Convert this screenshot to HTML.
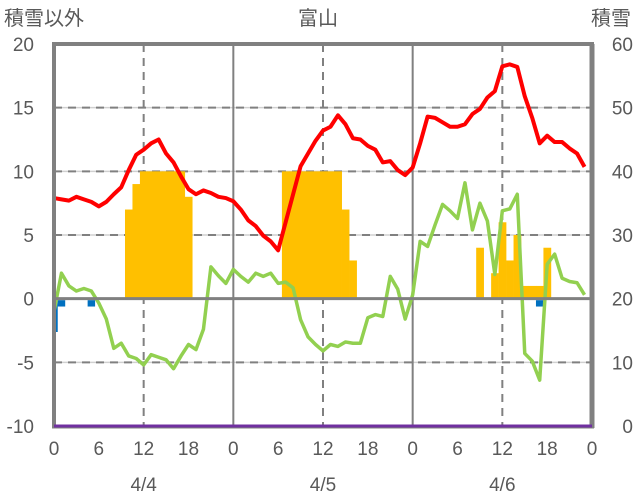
<!DOCTYPE html>
<html><head><meta charset="utf-8"><style>
html,body{margin:0;padding:0;background:#fff;}
svg{display:block;font-family:"Liberation Sans","Noto Sans CJK JP",sans-serif;}
</style></head><body>
<svg id="chart" width="636" height="501">
<g id="grid"></g>
<g id="bars"></g>
<g id="lines"></g>
<g id="frame"></g>
<g id="labels" fill="#595959" font-size="19"></g>
</svg>
<script>
const leftTicks = [20,15,10,5,0,-5,-10];
const rightTicks = [60,50,40,30,20,10,0];
const hourTicks = [0,6,12,18,0,6,12,18,0,6,12,18,0];
const dateLabels = ["4/4","4/5","4/6"];
const snowHours = [10,11,12,13,14,15,16,17,18,31,32,33,34,35,36,37,38,39,40,57,59,60,61,62,63,64,65,66];
const snowValues = [7,9,10,10,10,10,10,10,8,10,10,10,10,10,10,10,10,7,3,4,2,6,3,5,1,1,1,4];
const blueHours = [0,1,5,65];
const blueValues = [-2.5,-0.5,-0.5,-0.5];
const redValues = [7.9,7.8,7.7,8.0,7.8,7.6,7.25,7.6,8.2,8.75,10.1,11.3,11.7,12.2,12.5,11.4,10.7,9.6,8.6,8.2,8.5,8.3,8.0,7.9,
7.65,7.0,6.15,5.7,4.95,4.5,3.8,6.0,8.2,10.4,11.4,12.4,13.2,13.5,14.4,13.7,12.6,12.5,12.0,11.7,10.7,10.8,10.1,9.7,
10.3,12.2,14.3,14.2,13.85,13.5,13.5,13.7,14.5,14.9,15.8,16.3,18.25,18.4,18.2,15.9,14.2,12.2,12.8,12.3,12.3,11.8,11.4,10.35];
const greenValues = [-1.0,2.0,1.0,0.6,0.8,0.6,-0.35,-1.6,-3.9,-3.5,-4.5,-4.7,-5.2,-4.4,-4.6,-4.8,-5.5,-4.5,-3.6,-4.0,-2.4,2.5,1.8,1.2,
2.3,1.75,1.3,2.0,1.75,2.0,1.2,1.3,0.85,-1.65,-3.0,-3.6,-4.1,-3.6,-3.75,-3.4,-3.5,-3.5,-1.5,-1.25,-1.4,1.75,0.75,-1.6,
0.3,4.5,4.1,5.8,7.4,6.9,6.3,9.1,5.4,7.5,6.1,1.9,6.9,7.05,8.2,-4.3,-4.9,-6.4,2.7,3.5,1.6,1.35,1.25,0.3];
const purpleValue = -10;

const X0=54, X1=592, Y0=44, Y1=426;
const xs = h => X0 + (X1-X0)*h/72;
const ys = v => Y0 + (Y1-Y0)*(20-v)/30;
const NS="http://www.w3.org/2000/svg";
function mk(parent,tag,attrs){const e=document.createElementNS(NS,tag);for(const k in attrs)e.setAttribute(k,attrs[k]);parent.appendChild(e);return e;}
const grid=document.getElementById('grid'), bars=document.getElementById('bars'), lines=document.getElementById('lines'), frame=document.getElementById('frame'), labels=document.getElementById('labels');

[15,10,5,-5].forEach(v=>{
  const l=mk(grid,'line',{x1:X0,x2:X1,y1:ys(v),y2:ys(v),stroke:'#d0d0d0','stroke-width':1.5});
  
  
  const d=mk(grid,'line',{x1:X0,x2:X1,y1:ys(v),y2:ys(v),stroke:'#808080','stroke-width':2,'stroke-dasharray':'8,6'});
  
  
});
[12,36,60].forEach(h=>{
  const d=mk(grid,'line',{x1:xs(h),x2:xs(h),y1:Y0,y2:Y1,stroke:'#808080','stroke-width':2,'stroke-dasharray':'8,6'});
  
  
});
[24,48].forEach(h=>{
  const d=mk(grid,'line',{x1:xs(h),x2:xs(h),y1:Y0,y2:Y1,stroke:'#808080','stroke-width':2});
  
  
});

const bw=(X1-X0)/72;
snowHours.forEach((h,i)=>{
  let x=xs(h)-bw/2, w=bw; if(x<X0){w-=X0-x;x=X0;}
  const v=snowValues[i];
  const r=mk(bars,'rect',{x:x,y:ys(v),width:w+0.3,height:ys(0)-ys(v),fill:'#ffc000'});
  
  
});
blueHours.forEach((h,i)=>{
  let x=xs(h)-bw/2, w=bw; if(x<X0){w-=X0-x;x=X0;}
  const v=blueValues[i];
  const r=mk(bars,'rect',{x:x,y:ys(0)+1.5,width:w,height:ys(v)-ys(0),fill:'#0070c0'});
  
  
});

const z=mk(frame,'line',{x1:X0,x2:X1,y1:ys(0),y2:ys(0),stroke:'#808080','stroke-width':3});



const gp=mk(lines,'polyline',{points:greenValues.map((v,h)=>xs(h)+','+ys(v)).join(' '),fill:'none',stroke:'#92d050','stroke-width':3.5,'stroke-linejoin':'round'});


const rp=mk(lines,'polyline',{points:redValues.map((v,h)=>xs(h)+','+ys(v)).join(' '),fill:'none',stroke:'#ff0000','stroke-width':4,'stroke-linejoin':'round'});



const fr=mk(frame,'path',{d:`M${X0} ${Y1} V${Y0} H${X1} V${Y1}`,fill:'none',stroke:'#808080','stroke-width':4});


const rb=mk(frame,'line',{x1:X1,x2:X1,y1:Y0,y2:Y1+2,stroke:'#808080','stroke-width':5});


const bb=mk(frame,'line',{x1:X0-2,x2:X1+2,y1:Y1+1,y2:Y1+1,stroke:'#808080','stroke-width':3});


const pl=mk(frame,'line',{x1:X0,x2:X1,y1:ys(purpleValue),y2:ys(purpleValue),stroke:'#7030a0','stroke-width':3});



function txt(x,y,s,anchor,name,size){const t=mk(labels,'text',{x:x,y:y,'text-anchor':anchor});t.textContent=s;
  if(size)t.setAttribute('font-size',size);
  
  
  return t;}
leftTicks.forEach(v=>txt(34,ys(v)+7,String(v),'end','left-tick-label'));
rightTicks.forEach((v,i)=>txt(633,ys(leftTicks[i])+7,String(v),'end','right-tick-label'));
hourTicks.forEach((h,i)=>txt(xs(i*6),455,String(h),'middle','hour-tick-label'));
dateLabels.forEach((d,i)=>txt(xs(12+24*i),491,d,'middle','date-label'));
txt(4,25,'積雪以外','start','left-axis-title',20);
txt(318,25,'富山','middle','chart-title',20);
txt(631,25,'積雪','end','right-axis-title',20);
</script>
</body></html>
